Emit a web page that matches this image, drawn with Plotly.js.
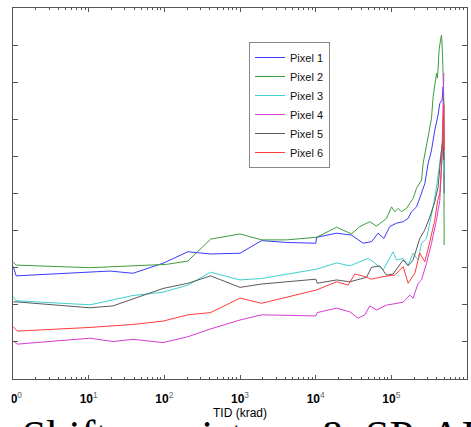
<!DOCTYPE html>
<html>
<head>
<meta charset="utf-8">
<script src="https://cdn.plot.ly/plotly-3.0.1.min.js"></script>
<style>
html,body{margin:0;padding:0;background:#fff;overflow:hidden;}
#chart{width:471px;height:427px;}
</style>
</head>
<body>
<div id="chart"></div>
<script>
// Pixel 1 (blue)
const x1 = [1.01,1.1,19.1,38.5,95.9,205,409,1000,1930,4130,10060,10280,18880,29800,42430,54700,66900,79600,95500,117100,143300,166700,184800,215200,250600,277100,306500,339800,375500,415100,437300,469000,483300,493900,498400];
const y1 = [3.03,2.78,2.91,2.85,3.12,3.43,3.37,3.39,3.73,3.68,3.66,3.82,3.93,3.88,3.66,3.70,3.93,3.79,4.11,4.20,4.24,4.33,4.51,4.64,5.01,5.27,5.81,6.17,6.71,7.12,7.43,7.52,7.88,7.25,5.01];
// Pixel 2 (green)
const x2 = [1.01,1.1,10.4,107,205,409,1000,1930,4130,10280,18880,29800,38350,52000,63700,86400,100600,111200,123000,136400,158800,194100,215200,250600,263200,306500,339800,356700,375500,395400,407600,415100,427700,446800,460400,474400,493900,498400];
const y2 = [3.15,3.07,3.00,3.09,3.18,3.77,3.91,3.75,3.75,3.82,4.09,3.91,4.11,4.24,4.12,4.33,4.64,4.51,4.60,4.51,4.60,4.87,5.14,5.36,5.81,6.53,7.03,7.61,7.97,8.24,8.11,8.60,8.87,9.14,9.27,8.78,7.52,3.61];
// Pixel 3 (cyan)
const x3 = [1.01,1.1,10.4,38.5,95.9,205,409,1000,1930,10280,18880,28300,49400,57500,77900,105600,117100,143300,166700,194100,226000,250600,291800,322700,356700,398900,437300,478700,493900,501200];
const y3 = [2.22,2.11,2.00,2.25,2.34,2.53,2.88,2.67,2.71,2.96,3.13,3.05,3.25,3.16,2.94,3.43,3.21,3.25,3.07,3.39,3.21,3.66,3.79,4.20,4.64,5.23,5.90,6.44,5.63,5.55];
// Pixel 4 (magenta)
const x4 = [1.01,1.14,10.4,20.9,38.5,95.9,205,409,1000,1930,10060,10470,18880,28300,36400,44650,52000,63700,86400,111200,143300,175500,194100,226000,250600,291800,339800,395400,437300,464700,478700,493900];
const y4 = [1.02,0.94,1.10,1.01,1.07,0.98,1.14,1.35,1.59,1.73,1.70,1.79,1.91,1.81,1.64,1.73,1.97,1.86,1.99,2.02,2.07,2.26,2.18,2.58,2.67,3.12,3.66,4.29,4.82,5.90,6.98,8.25];
// Pixel 5 (black)
const x5 = [1.01,1.1,10.4,20.9,95.9,205,409,1000,1930,10060,10470,18880,28300,47000,54700,70500,86400,105600,143300,166700,194100,237800,277100,322700,375500,415100,450700,478700,493900];
const y5 = [2.08,2.08,1.92,1.97,2.44,2.58,2.78,2.47,2.56,2.69,2.58,2.67,2.62,2.74,3.01,3.05,2.80,2.83,3.21,3.05,3.21,3.79,4.02,4.37,4.78,5.18,5.99,6.44,5.90];
// Pixel 6 (red)
const x6 = [1.01,1.14,10.4,38.5,95.9,205,409,1000,1930,10280,18880,26860,32950,44650,54700,77900,111200,143300,166700,204300,237800,277100,322700,375500,411300,437300,464700,478700,493900,501200];
const y6 = [1.41,1.29,1.39,1.47,1.56,1.73,1.79,2.18,2.04,2.40,2.62,2.53,2.83,2.76,2.69,2.76,2.80,3.03,2.58,2.85,3.39,3.16,3.70,4.29,4.82,5.01,5.90,6.71,7.39,6.17];

const seriesNames = ['Pixel 1','Pixel 2','Pixel 3','Pixel 4','Pixel 5','Pixel 6'];
const xTickVals = [1,10,100,1000,10000,100000,1000000];
const xTickExp = ['0','1','2','3','4','5','6'];
const xTitle = 'TID (krad)';
// background slide text (partly cut off at the bottom edge), in word pieces
const bgWords = ['Shift','registers','&amp;','SP','AD'];
const bgWordPx = [20,143,317,363,428];

const colors = ['#3a3aff','#3c9c3c','#3fd0d0','#d43cd4','#5a5a5a','#ff3c3c'];
const xs = [x1,x2,x3,x4,x5,x6];
const ys = [y1,y2,y3,y4,y5,y6];

const traces = xs.map((x,i)=>({
  x:x, y:ys[i], type:'scatter', mode:'lines', name:seriesNames[i],
  line:{color:colors[i], width:1}
}));

const minorVals = [];
for (let k=0;k<6;k++){ for (let m=2;m<10;m++){ minorVals.push(m*Math.pow(10,k)); } }

const ML = 13, PW = 454, MT = 8, PH = 371;
const px2paperX = p => (p-ML)/PW;
const py2paperY = p => 1-(p-MT)/PH;

const annotations = bgWords.map((w,i)=>({
  xref:'paper', yref:'paper', x:px2paperX(bgWordPx[i]), y:py2paperY(410), xanchor:'left', yanchor:'top',
  text:w, showarrow:false,
  font:{family:'Liberation Serif, Times New Roman, serif', size:44, color:'#000'}
}));

const layout = {
  width:471, height:427,
  margin:{l:ML, r:4, t:MT, b:48},
  paper_bgcolor:'#fff', plot_bgcolor:'#fff',
  showlegend:true,
  legend:{x:px2paperX(249), y:py2paperY(42), xanchor:'left', yanchor:'top',
    bgcolor:'#fff', bordercolor:'#888', borderwidth:1,
    font:{family:'Liberation Sans, Arial, sans-serif', size:11, color:'#111'},
    itemwidth:30, tracegroupgap:0},
  xaxis:{type:'log', range:[0,6], showgrid:false, zeroline:false,
    showline:true, linecolor:'#555', linewidth:1, mirror:'ticks',
    ticks:'inside', ticklen:4, tickcolor:'#555',
    tickmode:'array', tickvals:xTickVals,
    ticktext:xTickExp.map(e=>'<b>10</b><sup><span style="color:#666">'+e+'</span></sup>'),
    tickfont:{family:'Liberation Sans, Arial, sans-serif', size:12, color:'#000'},
    ticklabelstandoff:9,
    minor:{ticks:'inside', ticklen:2, tickcolor:'#555', tickmode:'array', tickvals:minorVals, showgrid:false},
    title:{text:xTitle, standoff:0, font:{family:'Liberation Sans, Arial, sans-serif', size:12, color:'#000'}},
    automargin:false},
  yaxis:{range:[0,10], showgrid:false, zeroline:false,
    showline:true, linecolor:'#555', linewidth:1, mirror:'ticks',
    ticks:'inside', ticklen:5, tickcolor:'#555', dtick:1,
    showticklabels:false, automargin:false},
  shapes:[{type:'rect', xref:'paper', yref:'paper', layer:'above',
    x0:px2paperX(-2), x1:px2paperX(11.5), y0:py2paperY(381), y1:py2paperY(406),
    fillcolor:'#fff', line:{width:0}}],
  annotations:annotations
};

Plotly.newPlot('chart', traces, layout, {staticPlot:true, displayModeBar:false});
</script>
</body>
</html>
